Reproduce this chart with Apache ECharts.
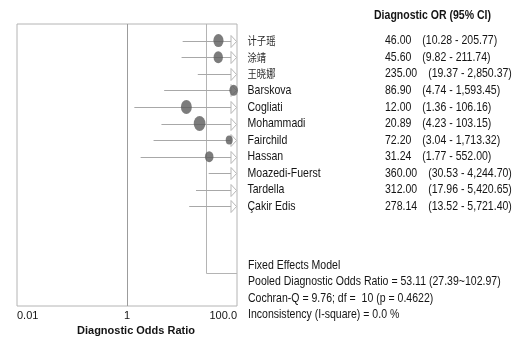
<!DOCTYPE html>
<html><head><meta charset="utf-8">
<script src="https://cdn.jsdelivr.net/npm/echarts@6/dist/echarts.min.js"></script>
<style>html,body{margin:0;padding:0;background:#fff}#c{width:521px;height:342px}</style>
</head><body><div id="c"></div>
<script>
// ---- data ----
const studies = ['计子瑶','涂靖','王晓娜','Barskova','Cogliati','Mohammadi','Fairchild','Hassan','Moazedi-Fuerst','Tardella','Çakir Edis'];
const orValues = [46.00, 45.60, 235.00, 86.90, 12.00, 20.89, 72.20, 31.24, 360.00, 312.00, 278.14];
const ciLow    = [10.28, 9.82, 19.37, 4.74, 1.36, 4.23, 3.04, 1.77, 30.53, 17.96, 13.52];
const ciHigh   = [205.77, 211.74, 2850.37, 1593.45, 106.16, 103.15, 1713.32, 552.00, 4244.70, 5420.65, 5721.40];
const studyWeights = [13, 12, 9, 11, 14, 15, 9, 11, 9, 9, 9];
const pooledOR = 53.11, pooledLow = 27.39, pooledHigh = 102.97;
const xTickValues = [0.01, 1, 100];
const xTickLabels = ['0.01', '1', '100.0'];
const headerText = 'Diagnostic OR (95% CI)';
const xAxisName = 'Diagnostic Odds Ratio';
const summaryLines = [
  'Fixed Effects Model',
  'Pooled Diagnostic Odds Ratio = ' + pooledOR.toFixed(2) + ' (' + pooledLow.toFixed(2) + '~' + pooledHigh.toFixed(2) + ')',
  'Cochran-Q = 9.76; df =  10 (p = 0.4622)',
  'Inconsistency (I-square) = 0.0 %'
];

// ---- layout / style ----
const FONT = "'Liberation Sans',Arial,sans-serif";
const CJK = "'Noto Sans CJK SC',sans-serif";
const TXT = '#141414';
const SX = 0.81;            // condensed look of the original text
const X_MIN = 0.01, X_MAX = 100, Y_MIN = -1, Y_MAX = 16, SUMMARY_ROW = 14;

function fmt(v){
  const s = v.toFixed(2).split('.');
  s[0] = s[0].replace(/\B(?=(\d{3})+(?!\d))/g, ',');
  return s.join('.');
}
const hasCJK = s => /[\u4e00-\u9fff]/.test(s);

const chart = echarts.init(document.getElementById('c'), null, {renderer:'canvas'});
chart.setOption({
  animation: false,
  backgroundColor: '#fff',
  grid: {left: 17, right: 284, top: 24, bottom: 36, outerBoundsMode: 'none', containLabel: false,
    show: true, borderColor: '#b4b4b4', borderWidth: 1, backgroundColor: 'transparent'},
  xAxis: {
    type: 'log', logBase: 10, min: X_MIN, max: X_MAX, splitNumber: 2,
    axisLine: {show: false}, axisTick: {show: false}, splitLine: {show: false},
    axisLabel: {margin: 4, alignMinLabel: 'left', alignMaxLabel: 'right', fontFamily: FONT, fontSize: 11, color: TXT,
      formatter: v => { const k = xTickValues.findIndex(t => Math.abs(Math.log10(t) - Math.log10(v)) < 1e-6); return k >= 0 ? xTickLabels[k] : ''; }},
    name: xAxisName, nameLocation: 'middle', nameGap: 19,
    nameTextStyle: {fontFamily: FONT, fontSize: 11, fontWeight: 'bold', color: TXT, padding: [0, 0, 0, 18]}
  },
  yAxis: {type: 'value', min: Y_MIN, max: Y_MAX, interval: 1, inverse: true,
    axisLine: {show: false}, axisTick: {show: false}, splitLine: {show: false}, axisLabel: {show: false}},
  series: [
    {type: 'custom', name: 'CI', clip: false, z: 2, silent: true,
     data: studies.map((s, i) => [ciLow[i], ciHigh[i], i]),
     encode: {x: [0, 1], y: 2},
     renderItem: (params, api) => {
       const lo = api.value(0), hi = api.value(1), row = api.value(2);
       const p1 = api.coord([lo, row]);
       const edge = api.coord([Math.min(hi, X_MAX), row]);
       const y = Math.round(p1[1]) + 0.5;
       const children = [];
       if (hi > X_MAX) {
         const tip = edge[0] - 0.5, base = tip - 5.5;
         children.push({type: 'line', shape: {x1: p1[0], y1: y, x2: base, y2: y}, style: {stroke: '#a8a8a8', lineWidth: 1}});
         children.push({type: 'polygon', shape: {points: [[base, y - 6], [tip, y], [base, y + 6]]}, style: {fill: 'none', stroke: '#b8b8b8', lineWidth: 1}});
       } else {
         children.push({type: 'line', shape: {x1: p1[0], y1: y, x2: edge[0], y2: y}, style: {stroke: '#a8a8a8', lineWidth: 1}});
       }
       return {type: 'group', children};
     }},
    {type: 'custom', name: 'Pooled', clip: false, z: 1, silent: true,
     data: [[pooledLow, SUMMARY_ROW]],
     encode: {x: 0, y: 1},
     renderItem: (params, api) => {
       const top = api.coord([api.value(0), Y_MIN]);
       const corner = api.coord([api.value(0), api.value(1)]);
       const right = api.coord([X_MAX, api.value(1)]);
       const x = Math.round(corner[0]) + 0.5, y = Math.round(corner[1]) + 0.5;
       return {type: 'polyline', shape: {points: [[x, top[1]], [x, y], [right[0], y]]}, style: {fill: 'none', stroke: '#b4b4b4', lineWidth: 1}};
     }},
    {type: 'scatter', name: 'OR', clip: true, z: 3,
     data: studies.map((s, i) => ({value: [orValues[i], i], symbolSize: [studyWeights[i] * 0.78, studyWeights[i]]})),
     symbol: 'circle', itemStyle: {color: '#5b5b5b'},
     markLine: {silent: true, symbol: 'none', label: {show: false},
       lineStyle: {color: '#9c9c9c', type: 'solid', width: 1}, data: [{xAxis: 1}]}},
    {type: 'custom', name: 'Labels', clip: false, z: 4, silent: true,
     data: studies.map((s, i) => [X_MAX, i]),
     encode: {x: 0, y: 1},
     renderItem: (params, api) => {
       const i = params.dataIndex;
       const p = api.coord([api.value(0), api.value(1)]);
       const name = studies[i];
       return {type: 'group', children: [
         {type: 'text', x: p[0] + 10.5, y: p[1], scaleX: SX,
          style: {text: hasCJK(name) ? '{c|' + name + '}' : name, fontFamily: FONT, fontSize: 13, fill: TXT,
                  align: 'left', verticalAlign: 'middle', rich: {c: {fontFamily: CJK, fontSize: 11.5, fill: '#2a2a2a'}}}},
         {type: 'text', x: p[0] + 148, y: p[1], scaleX: SX,
          style: {text: '{v|' + fmt(orValues[i]) + '}{c|(' + fmt(ciLow[i]) + ' - ' + fmt(ciHigh[i]) + ')}',
                  fontFamily: FONT, fontSize: 13, fill: TXT, align: 'left', verticalAlign: 'middle',
                  rich: {v: {fontFamily: FONT, fontSize: 13, fill: TXT, padding: [0, 13.5, 0, 0]},
                         c: {fontFamily: FONT, fontSize: 13, fill: TXT}}}}
       ]};
     }}
  ],
  graphic: [
    {type: 'text', x: 374, y: 15, scaleX: SX, silent: true,
     style: {text: headerText, fontFamily: FONT, fontSize: 13, fontWeight: 'bold', fill: TXT, align: 'left', verticalAlign: 'middle'}}
  ].concat(summaryLines.map((t, k) => ({type: 'text', x: 248, y: 265 + k * 16.6, scaleX: SX, silent: true,
    style: {text: t, fontFamily: FONT, fontSize: 13, fill: TXT, verticalAlign: 'middle', align: 'left'}})))
});
</script>
</body></html>
